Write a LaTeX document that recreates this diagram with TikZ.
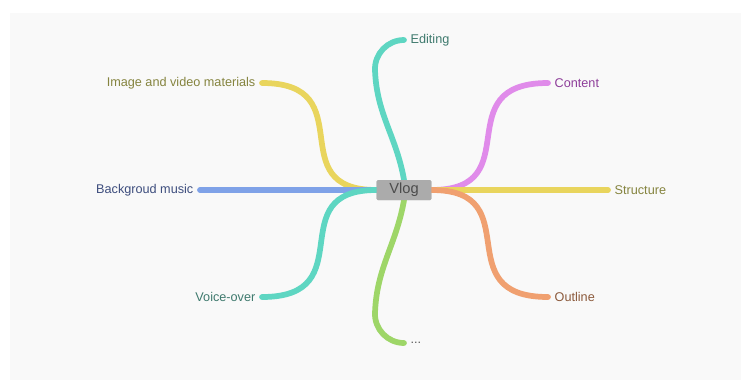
\documentclass[tikz,border=0pt]{standalone}
\usepackage{fontspec}
\setmainfont{Liberation Sans}
\usepackage{tikz}
\usetikzlibrary{arrows.meta}

\definecolor{bgcol}{HTML}{F9F9F9}
\definecolor{vlogcol}{HTML}{ABABAB}
\definecolor{tealbr}{HTML}{5ED6C2}
\definecolor{greenbr}{HTML}{9ED668}
\definecolor{violetbr}{HTML}{E08BEA}
\definecolor{yellowbr}{HTML}{E9D55D}
\definecolor{orangebr}{HTML}{F0A070}
\definecolor{bluebr}{HTML}{7FA2E8}
\definecolor{tealtx}{HTML}{3F7A6E}
\definecolor{olivetx}{HTML}{85843F}
\definecolor{violettx}{HTML}{8E3E9A}
\definecolor{bluetx}{HTML}{3E4E7E}
\definecolor{orangetx}{HTML}{8C5A3C}

\tikzset{
  leaf/.style={font=\fontsize{9.5}{11}\selectfont, inner sep=0pt, outer sep=5pt},
  branch/.style={line width=4.3pt, line cap=round},
  topic/.style={fill=vlogcol, rounded corners=1pt, minimum width=41pt, minimum height=15pt,
    inner sep=0pt, font=\fontsize{11}{13}\selectfont, text=black!70}
}

\begin{document}
\begin{tikzpicture}[x=0.75pt,y=-0.75pt]
\useasboundingbox (0,0) rectangle (747,390);
\fill [bgcol] (10,13) rectangle (741,380);
\node (VLOG) [topic] at (404,190) {};
\node (EDIT) [leaf,anchor=west,text=tealtx] at (404,40) {Editing};
\node (DOTS) [leaf,anchor=west,text=black!65] at (404,343) {...};
\node (CONTENT) [leaf,anchor=west,text=violettx] at (548,83) {Content};
\node (STRUCT) [leaf,anchor=west,text=olivetx] at (608,190) {Structure};
\node (OUTLINE) [leaf,anchor=west,text=orangetx] at (548,297) {Outline};
\node (IMAGE) [leaf,anchor=east,text=olivetx] at (262,83) {Image and video materials};
\node (MUSIC) [leaf,anchor=east,text=bluetx] at (200,190) {Backgroud music};
\node (VOICE) [leaf,anchor=east,text=tealtx] at (262,297) {Voice-over};
\coordinate (EBEND) at (375,70);
\coordinate (DBEND) at (375,313);
% branches
\draw [branch,tealbr] (VLOG.north) to [out=100,in=-88] (EBEND) to [out=92,in=180] (EDIT.west);
\draw [branch,greenbr] (VLOG.south) to [out=-100,in=88] (DBEND) to [out=-92,in=180] (DOTS.west);
\draw [branch,violetbr] (VLOG.east) .. controls (530,190) and (445,83) .. (CONTENT.west);
\draw [branch,yellowbr] (VLOG.east) -- (STRUCT.west);
\draw [branch,orangebr] (VLOG.east) .. controls (530,190) and (445,297) .. (OUTLINE.west);
\draw [branch,yellowbr] (VLOG.west) .. controls (279,190) and (364,83) .. (IMAGE.east);
\draw [branch,bluebr] (VLOG.west) -- (MUSIC.east);
\draw [branch,tealbr] (VLOG.west) .. controls (279,190) and (364,297) .. (VOICE.east);
\node (VLOGTXT) [topic] at (VLOG) {Vlog};
\end{tikzpicture}
\end{document}
